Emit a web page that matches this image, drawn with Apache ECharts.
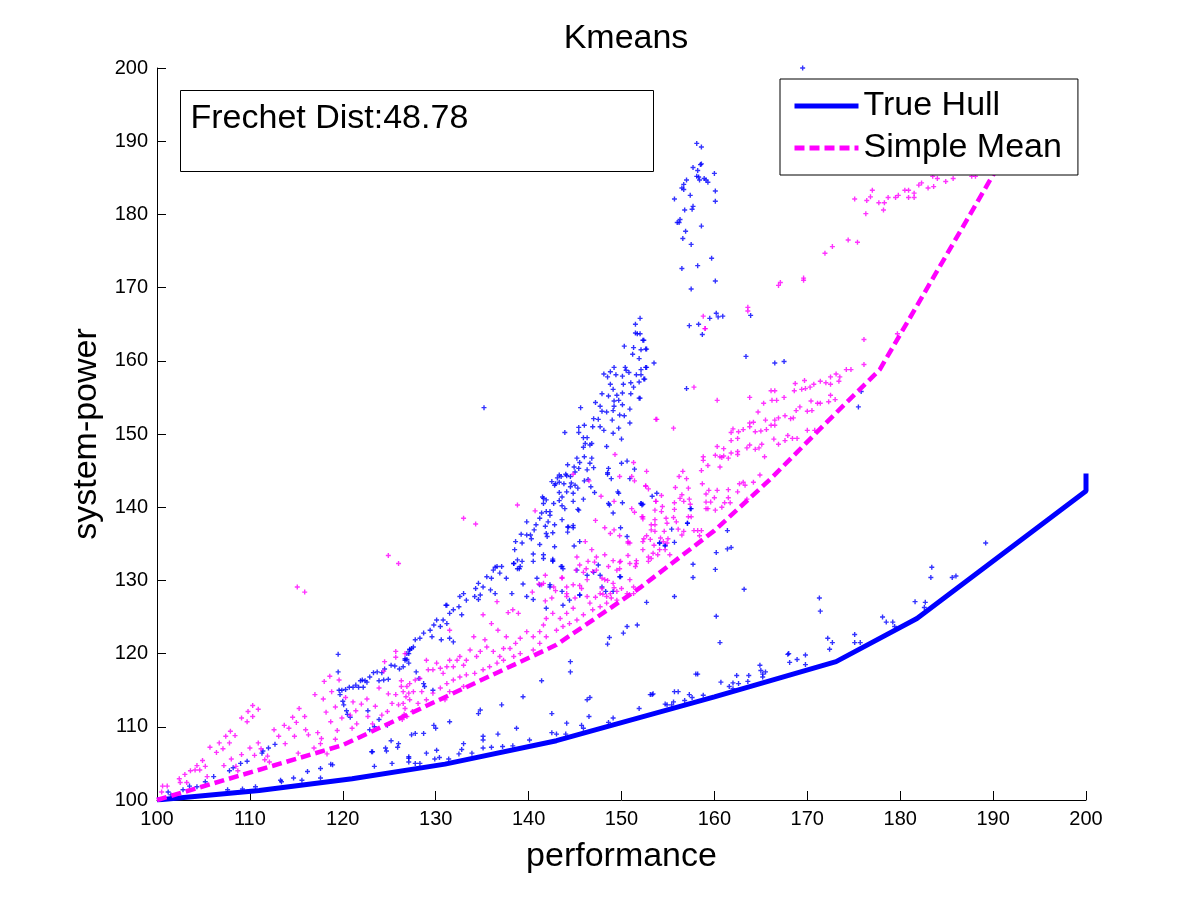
<!DOCTYPE html>
<html>
<head>
<meta charset="utf-8">
<title>Kmeans</title>
<script src="https://cdn.jsdelivr.net/npm/echarts@6/dist/echarts.min.js"></script>
<style>
	html, body { margin: 0; padding: 0; background: #fff; }
	#main { width: 1200px; height: 900px; }
</style>
</head>
<body>
<div id="main"></div>
<script>
// axis range / ticks
var xMin = 100, xMax = 200, xStep = 10;
var yMin = 100, yMax = 200, yStep = 10;
var frechetDist = "48.78";

// hull and mean curves  [performance, system-power]
var trueHull = [
	[100, 100], [111, 101.3], [121, 102.9], [131, 104.9], [143, 108.1],
	[160, 114.1], [173.1, 118.9], [181.8, 124.8], [200, 142.2], [200, 144.6]
];
var simpleMean = [
	[100, 100], [120, 107.5], [143, 121.2], [152, 129.0], [160, 136.8],
	[166, 143.8], [172, 151.5], [177.8, 158.8], [190, 185.4], [191, 187.8]
];

// blue samples
var bluePts = [
	[101.2,101.1],[101.5,100.7],[102.8,101.4],[103.5,101.9],[104.3,101.8],[105.2,102.5],[106.1,103.2],[107.6,101.4],
	[107.8,104.0],[108.2,104.4],[109.0,105.0],[109.2,101.5],[109.7,105.3],[110.6,101.8],[111.3,106.4],[111.4,106.7],
	[112.0,107.1],[112.7,107.6],[113.3,102.7],[113.4,102.5],[114.7,103.0],[115.6,102.7],[116.2,103.9],[117.6,104.3],
	[117.6,103.0],[118.7,104.9],[118.9,104.8],[119.5,119.9],[119.5,117.5],[119.6,115.0],[119.7,114.4],[119.9,115.0],
	[120.0,113.5],[120.1,113.0],[120.3,115.1],[120.4,112.2],[120.5,111.7],[120.7,115.4],[120.8,111.3],[121.1,115.4],
	[121.4,115.7],[121.7,115.4],[121.9,116.3],[122.1,116.4],[122.2,115.4],[122.4,116.3],[122.6,116.1],[122.7,112.2],
	[122.9,116.8],[122.9,109.6],[123.1,106.6],[123.2,106.6],[123.3,117.4],[123.4,110.0],[123.4,104.6],[123.7,117.5],
	[123.9,111.0],[123.9,116.3],[124.2,117.4],[124.4,116.4],[124.5,117.9],[124.6,107.1],[124.7,106.7],[124.8,110.2],
	[124.9,116.5],[125.2,118.4],[125.2,108.1],[125.3,105.0],[125.6,118.3],[125.9,107.2],[126.0,107.7],[126.1,117.9],
	[126.7,119.3],[126.9,119.2],[127.1,120.0],[127.2,120.5],[127.1,105.9],
	[136.6,131.9],[136.2,131.4],[136.9,131.0],[136.0,130.3],[135.5,130.5],[138.4,132.3],[139.0,131.6],[139.3,132.6],
	[137.6,130.3],[134.6,129.6],[135.1,129.1],[134.3,128.9],[135.9,128.7],[136.4,128.2],[134.8,128.0],[134.2,127.8],
	[134.6,127.4],[133.0,128.2],[132.6,127.8],[133.3,127.3],[132.5,126.4],[131.2,126.6],[131.9,126.0],[131.5,125.5],
	[132.8,125.3],[130.8,124.6],[131.2,124.1],[130.5,123.7],[129.8,123.9],[129.4,123.2],[128.7,122.8],[129.6,122.3],
	[128.3,122.1],[127.8,121.9],[127.6,120.9],[127.2,120.6],[127.4,120.7],[126.9,120.0],[126.7,119.1],[126.5,118.2],
	[127.1,118.7],[127.9,117.5],[128.2,116.6],[128.7,115.9],[128.8,115.5],[129.7,115.0],[130.1,124.6],[130.6,121.9],
	[131.5,122.1],[131.9,121.6],[138.2,128.2],[139.4,129.5],[140.5,132.6],[142.6,132.7],[143.6,131.9],[143.7,131.6],
	[140.9,130.3],[141.2,129.4],[142.3,129.4],[139.8,127.8],[140.5,127.4],[141.9,126.2],[143.7,126.6],[144.4,127.3],
	[145.2,131.4],[146.3,130.7],[147.0,131.1],[147.7,130.7],[147.9,129.1],[149.1,128.5],[149.9,130.5],[145.5,128.0],
	[152.7,127.0],
	[127.4,108.9],[127.8,109.1],[128.7,109.1],[129.8,110.2],[130.0,109.8],[131.5,110.7],[134.6,111.8],[134.8,112.3],
	[137.1,113.0],[139.4,114.1],[138.7,109.8],[135.1,108.7],[135.1,108.2],[136.7,109.0],[133.0,107.7],[130.1,106.8],
	[129.0,106.4],[127.1,105.7],[127.1,105.2],[127.8,105.0],[128.3,105.0],[129.9,105.6],[130.4,105.8],[131.4,105.6],
	[132.5,106.3],[132.8,106.9],[133.9,106.4],[135.1,107.1],[136.0,107.2],[137.2,107.3],[138.3,107.4],[140.1,108.2],
	[141.4,116.3],[142.5,111.8],[144.1,110.5],[142.5,109.2],[143.0,109.0],[144.0,109.0],[144.5,117.5],[144.5,118.9],
	[146.3,113.7],[146.6,114.0],[146.5,111.4],[145.7,110.2],[145.9,109.8],[148.6,110.6],[149.1,111.2],[151.9,112.5],
	[153.1,114.4],[153.3,114.4],[148.5,121.3],[148.7,122.2],[150.2,122.8],[150.6,123.7],[151.7,123.9],[131.1,126.6],
	[153.4,114.5],[154.7,113.1],[154.9,113.0],[155.4,113.0],[155.6,113.4],[155.7,114.8],[156.1,114.8],[156.8,113.6],
	[157.3,114.4],[157.6,114.0],[158.8,114.3],[158.0,117.2],[158.2,117.2],[160.7,116.1],[161.6,115.5],[162.0,116.0],
	[162.0,115.2],[162.6,115.9],[162.4,117.0],[163.6,116.2],[163.7,117.0],[164.9,118.4],[165.0,117.7],[165.2,117.2],
	[165.5,117.5],[165.2,116.8],[167.9,119.9],[168.0,120.0],[168.1,118.8],[168.9,119.2],[169.8,119.8],[169.8,118.5],
	[171.3,127.6],[171.4,125.8],[172.2,122.1],[172.4,120.6],[172.7,121.5],[175.1,122.6],[175.1,121.5],[175.7,121.5],
	[178.1,125.0],[178.5,124.3],[179.2,124.3],[179.4,123.7],[181.6,127.1],[182.7,127.0],[182.6,126.3],[183.4,131.8],
	[183.3,130.4],[185.6,130.4],[186.0,130.6],[189.2,135.1],[155.7,127.8],[157.7,132.2],[157.7,130.4],[160.1,131.5],
	[160.2,133.8],[160.2,125.1],[160.6,121.5],[161.4,136.8],[161.4,134.3],[161.8,134.5],[163.2,128.8],[157.1,137.8],
	[157.4,139.8],[155.7,135.2],[154.7,134.7],[154.1,135.1],[155.4,137.0],
	[151.7,163.7],[151.5,163.8],[152.0,163.7],[150.3,162.0],[151.3,161.8],[152.1,161.5],[152.3,162.8],[152.6,161.6],
	[151.2,160.9],[151.9,160.3],[153.5,159.7],[149.2,159.1],[150.4,159.1],[150.5,158.7],[148.8,158.5],[148.1,158.2],
	[148.5,157.8],[149.4,158.1],[150.1,157.9],[150.8,158.4],[151.6,158.1],[152.1,158.8],[152.6,159.1],[152.4,157.5],
	[151.9,157.1],[151.0,157.0],[150.2,156.8],[148.8,156.8],[151.3,156.4],[149.1,156.1],[150.1,155.6],[151.0,155.5],
	[147.9,155.5],[148.6,155.2],[149.5,155.3],[149.7,154.6],[149.2,154.5],[150.1,154.0],[151.9,154.9],[147.2,154.3],
	[147.7,153.8],[148.4,153.0],[149.2,153.8],[149.1,153.2],[149.8,152.6],[150.9,153.4],[150.3,152.5],[147.9,153.1],
	[147.5,152.0],[147.0,152.1],[146.9,151.0],[147.7,151.0],[148.1,150.5],[149.0,151.9],[149.1,150.1],[149.7,150.8],
	[150.9,151.5],[145.6,153.6],[145.4,150.9],[145.4,150.2],[146.0,151.2],[143.9,150.2],[145.9,149.5],[146.3,149.5],
	[146.1,148.7],[146.6,148.5],[146.8,148.7],[148.4,148.3],[150.0,149.3],[145.9,148.2],[146.0,146.9],[146.8,146.7],
	[145.2,146.7],[144.2,145.8],[144.9,145.5],[145.5,146.1],[145.4,145.3],[146.3,145.1],[147.0,145.4],[146.6,146.0],
	[145.0,144.8],[144.5,144.2],[144.0,144.5],[143.5,144.2],[143.1,144.0],[142.5,143.5],[143.3,143.4],[142.8,143.0],
	[143.8,143.2],[144.1,142.1],[144.5,142.8],[145.0,143.0],[145.3,142.6],[144.8,141.9],[143.3,142.0],[143.6,141.4],
	[143.3,140.9],[142.7,140.5],[143.6,140.2],[141.6,141.2],[141.9,141.0],[141.6,140.5],[141.9,139.4],[142.3,138.9],
	[142.1,138.0],[142.8,137.6],[142.6,136.5],[141.4,139.2],[141.2,138.5],[140.8,137.6],[140.6,136.9],[140.2,136.2],
	[139.8,136.2],[139.8,138.0],[140.3,135.7],[139.2,136.3],[139.3,135.1],[138.6,135.3],[138.5,134.2],[138.8,132.8],
	[138.4,132.3],[139.1,131.9],[138.8,131.6],[140.5,133.6],[141.2,134.9],[141.6,133.5],[141.9,136.4],[142.6,132.6],
	[142.8,134.6],[143.5,131.9],[144.2,137.3],[144.2,136.6],[144.8,137.2],[145.3,139.7],[145.5,135.3],[144.9,134.7],
	[137.1,131.9],[136.4,131.8],[148.6,145.3],[148.9,143.9],[148.5,144.5],[150.0,146.0],[150.6,146.3],[151.4,145.2],
	[150.9,143.9],[149.6,142.1],[148.6,140.5],[150.1,140.6],[149.1,139.2],[149.9,137.2],[150.6,136.0],[152.1,140.5],
	[152.2,140.3],[153.3,141.5],[153.8,141.9],[147.1,142.0],[146.7,142.8],[146.0,143.6],[146.4,143.8],[135.2,153.6],
	[143.3,144.4],[144.1,144.3],[144.6,143.3],[142.9,143.2],[141.5,141.4],[142.3,139.4],[141.8,137.4],[142.0,136.0],
	[143.6,138.3],[143.9,139.8],[144.8,140.8],[145.9,141.1],[145.4,139.6],[144.3,137.3],[144.8,137.5],[141.6,133.0],
	[142.6,132.9],[147.5,132.1],[149.8,130.5],[148.3,128.5],[143.6,128.5],[142.3,129.1],[145.5,128.0],[154.1,135.1],
	[154.7,134.8],[148.7,140.3],[149.7,141.9],[148.5,144.7],
	[157.3,164.8],[158.3,165.0],[158.7,163.6],[152.4,162.8],[152.7,161.6],[152.7,159.1],[152.1,158.1],[152.5,157.5],
	[163.4,160.6],[166.5,159.7],[167.5,159.9],[157.0,156.2],[152.0,154.9],[175.8,155.8],[175.5,153.7],[152.1,140.5],
	[152.3,140.4],[157.5,139.8],[157.1,137.8],
	[169.5,200.0],[158.1,189.7],[158.6,189.2],[158.5,186.8],[158.6,186.9],[157.7,186.4],[158.2,186.0],[160.0,185.6],
	[158.1,185.2],[158.3,185.1],[158.4,184.7],[158.9,184.9],[159.1,184.7],[159.3,184.4],[157.0,184.7],[156.7,184.1],
	[156.5,183.6],[156.7,183.4],[157.4,182.6],[155.7,182.1],[160.1,183.2],[160.1,181.8],[157.7,181.1],[157.6,180.7],
	[156.8,180.6],[156.3,179.3],[156.0,178.9],[156.2,178.9],[158.6,178.4],[156.9,177.7],[156.6,176.7],[157.5,175.9],
	[159.7,174.0],[158.2,173.0],[156.5,172.6],[160.1,170.9],[157.5,169.8],[152.0,165.8],[151.5,165.0],[160.2,166.5],
	[160.4,166.0],[159.5,165.8],[160.9,166.1],[163.9,166.2]
];

// magenta samples
var magentaPts = [
	[100.6,101.9],[101.1,101.9],[100.5,101.1],[102.4,102.9],[102.5,102.4],[103.0,103.5],[103.2,102.4],[103.6,104.0],
	[104.1,104.1],[104.3,104.7],[104.6,104.1],[104.9,105.4],[105.2,104.6],[105.4,103.2],[105.7,107.2],[106.4,106.5],
	[106.7,107.8],[107.1,107.0],[107.4,108.7],[107.8,107.8],[107.9,109.4],[108.4,108.8],[107.2,104.7],[108.0,105.6],
	[108.5,104.6],[108.7,104.0],[109.1,106.2],[109.1,111.2],[109.7,110.7],[109.8,112.1],[110.3,112.9],[110.3,111.4],
	[110.9,112.4],[110.0,107.1],[110.5,106.1],[110.9,107.8],[111.2,107.0],[111.6,105.5],[111.9,106.0],[112.1,105.2],
	[112.6,109.6],[113.1,108.7],[113.7,110.2],[113.8,107.7],[114.2,109.8],[114.6,111.3],[114.8,108.7],[115.0,110.6],
	[115.3,112.5],[115.2,106.4],[115.9,111.4],[116.0,109.6],[116.3,108.9],[116.9,107.1],[117.0,114.4],[117.3,109.2],
	[117.6,107.7],[117.9,113.8],[117.7,108.4],[118.0,116.2],[118.2,112.0],[118.3,106.3],[118.6,116.9],[118.8,114.8],
	[118.7,110.7],[119.2,112.7],[119.2,108.3],[119.4,109.5],[119.6,116.4],[119.9,111.2],[120.3,114.0],[120.8,111.6],
	[121.1,113.4],[121.0,109.8],[121.4,112.2],[121.5,110.4],[122.0,113.1],[122.6,113.8],[122.7,111.4],[123.2,110.4],
	[123.5,112.8],[123.9,115.3],[124.2,111.6],[124.4,117.6],[124.5,118.9],[124.9,114.5],[124.8,112.1],[125.3,113.2],
	[125.7,120.3],[125.7,119.5],[125.7,114.4],[126.0,113.0],[126.3,116.3],[126.6,111.7],[126.7,120.0],[126.8,114.1],
	[127.1,114.6],
	[115.1,129.1],[115.9,128.4],[124.9,133.4],[126.0,132.3],
	[136.6,127.1],[137.8,125.6],[138.3,126.0],[138.9,125.5],[140.4,128.4],[141.1,129.5],[141.4,129.4],[141.8,130.7],
	[141.8,127.2],[142.9,128.6],[143.6,130.3],[144.1,128.2],[144.8,129.4],[145.7,128.9],[146.3,130.1],[145.5,132.1],
	[146.4,132.6],[147.3,131.4],[148.2,130.1],[149.1,129.6],[148.4,127.8],[149.5,131.4],[150.9,130.1],[151.3,129.1],
	[151.6,132.3],[149.9,132.6],[152.9,132.6],[150.9,132.3],[150.6,128.2],[148.8,128.2],[147.7,128.2],[146.6,126.9],
	[144.8,126.2],[144.1,125.5],[143.4,124.8],[142.6,125.5],[141.9,124.8],[141.6,123.9],[141.2,123.0],[140.5,122.3],
	[139.8,123.0],[139.1,122.1],[138.6,121.4],[138.0,120.7],[137.3,120.7],[136.9,119.6],[136.2,120.3],[135.5,120.9],
	[134.8,120.3],[134.4,119.6],[133.7,120.5],[133.3,119.1],[133.0,118.4],[132.3,119.1],[131.9,118.2],[131.5,119.1],
	[131.2,118.2],[130.8,117.3],[130.5,118.0],[130.1,118.7],[129.7,117.8],[129.2,117.8],[129.0,119.1],[128.3,116.6],
	[127.8,116.4],[127.2,115.9],[126.9,115.5],[126.5,114.8],[126.3,115.5],[127.6,114.8],[128.5,114.8],[127.2,113.7],
	[126.5,113.2],[126.7,112.5],[128.1,113.2],[129.0,113.7],[129.7,114.6],[130.5,115.3],[131.2,115.9],[131.9,116.4],
	[132.6,116.8],[133.3,117.1],[134.2,117.3],[135.1,117.8],[135.8,118.2],[136.6,118.7],[137.3,119.1],[138.4,119.6],
	[139.1,120.0],[140.5,120.5],[141.2,121.4],[141.9,122.3],[143.0,123.2],[143.7,123.7],[144.4,124.1],[145.2,124.6],
	[145.9,125.3],[146.9,126.0],[147.7,126.4],[148.4,126.9],[149.5,127.3],[151.3,128.2],[135.1,125.3],[134.1,122.3],
	[136.0,124.1],[136.7,123.2],[137.6,122.3],[135.3,121.9],[132.6,119.6],[131.5,114.8],[133.0,115.5],[131.0,113.7],
	[131.5,123.2],[127.5,112.1],[126.9,111.4],[126.4,111.0],
	[153.8,152.0],[149.3,147.2],[151.3,146.1],[152.6,142.9],[152.9,142.5],[153.7,140.8],[146.5,143.6],[147.8,141.5],
	[149.2,140.8],[151.1,139.8],[151.4,139.3],[152.3,138.7],[152.3,138.4],[147.2,138.2],[148.2,137.2],[148.8,136.4],
	[149.2,136.9],[149.8,136.1],[150.7,135.3],[150.9,135.1],[152.3,135.3],[153.5,134.8],[153.2,136.9],[153.6,137.6],
	[146.1,135.3],[144.8,144.5],[138.8,140.3],[140.7,139.5],[133.0,138.5],[134.3,137.7],[146.8,134.2],[147.3,133.2],
	[145.2,133.2],[148.2,133.5],[149.1,132.7],[149.8,132.5],[150.7,133.4],[151.6,132.7],[152.3,134.2],[152.9,133.2],
	[153.9,133.5],[147.1,132.5],[148.6,131.9],[149.8,131.6],[151.5,131.9],
	[145.1,131.4],[145.9,131.1],[146.2,131.6],[146.9,131.2],[143.6,130.4],[144.1,129.1],[145.5,129.3],[147.9,130.3],
	[148.5,130.0],[149.2,129.0],[150.0,128.9],[147.9,128.9],[146.3,127.8],[147.2,127.7],[148.0,128.1],[148.9,127.6],
	[149.5,128.5],[145.0,127.6],[141.6,129.6],[142.7,129.1],[142.5,127.6],[144.1,127.8],[149.8,144.2],[151.1,144.2],
	[151.4,143.6],[152.7,144.9],[153.6,139.6],[154.4,140.1],[154.8,138.5],[155.0,135.7],[154.5,135.3],[154.7,134.2],
	[150.7,135.1],[153.1,135.6],
	[159.0,164.4],[176.1,162.9],[179.7,163.7],[176.1,159.5],[157.8,156.4],[160.3,154.6],[163.8,155.0],[153.7,152.0],
	[155.6,150.8],[168.7,156.9],[169.7,157.3],[170.7,156.8],[171.4,157.2],[172.0,157.0],[172.5,157.8],[173.1,158.2],
	[173.5,157.8],[173.4,157.2],[174.2,158.8],[174.7,158.8],[172.5,156.8],[168.6,155.9],[169.4,156.1],[169.8,156.2],
	[170.3,156.4],[166.1,155.9],[166.5,155.9],[166.2,154.6],[166.7,154.6],[167.5,155.0],[164.7,153.0],[165.3,154.2],
	[167.6,152.5],[166.9,152.2],[168.2,152.1],[168.5,152.2],[168.8,153.2],[169.2,153.7],[170.0,153.1],[170.5,153.2],
	[170.4,154.5],[171.1,154.2],[171.4,154.2],[172.3,154.4],[172.5,155.3],[173.0,154.7],[165.5,151.9],[166.1,151.2],
	[166.5,151.9],[164.2,151.6],[163.8,151.5],[163.1,150.6],[163.8,151.0],[162.0,150.7],[161.8,150.2],[162.6,150.3],
	[164.4,150.3],[165.0,150.4],[165.6,150.6],[166.5,151.2],[167.9,149.8],[168.4,149.4],[168.9,149.4],[170.0,150.5],
	[170.8,150.5],[162.5,149.4],[161.8,149.1],[161.0,148.0],[160.3,148.3],[163.5,148.1],[163.8,148.5],[164.4,147.9],
	[164.8,148.1],[165.1,148.6],[166.4,149.3],[166.9,148.6],[167.6,149.1],[160.6,146.9],[160.1,147.1],[160.8,146.8],
	[161.0,147.0],[161.5,146.7],[161.8,147.4],[162.5,147.6],[162.5,147.2],[158.8,146.9],[158.8,146.4],[159.3,145.7],
	[158.6,145.0],[160.6,145.5],[156.6,144.9],[156.2,144.2],[157.0,143.9],[165.4,146.9],[164.9,144.4],[158.7,143.2],
	[155.8,142.7],[157.2,142.6],[159.1,141.8],[159.4,142.3],[160.3,142.3],[161.5,142.4],[162.7,143.2],[163.1,143.4],
	[163.3,143.0],[164.2,143.4],[162.5,142.1],[161.5,141.3],[160.0,141.3],[159.1,140.7],[159.6,140.7],[161.1,140.6],
	[161.7,140.6],[163.5,141.1],[156.5,141.7],[156.3,141.2],[155.7,140.6],[156.7,140.8],[157.3,141.1],[157.4,140.4],
	[152.6,142.9],[154.3,141.6],[153.7,140.8],[155.7,139.7],[154.3,139.4],[157.2,138.7],[157.5,138.7],[159.1,139.8],
	[159.3,139.8],[160.1,139.6],[160.8,140.0],[155.6,138.6],[155.9,138.0],[154.9,137.8],[153.2,137.6],[153.6,138.3],
	[153.6,136.7],[152.2,138.7],[154.6,136.7],[156.1,137.0],[156.7,136.7],[157.8,136.8],[158.2,136.8],[158.6,136.8],
	[158.4,136.1],[156.5,136.2],[154.2,135.8],[152.7,136.1],[152.4,135.7],
	[153.4,133.7],[154.1,134.2],[155.2,133.5],[153.2,133.0],[154.9,135.1],
	[175.1,182.1],[174.4,176.5],[175.4,176.2],[172.7,175.6],[171.9,174.7],[169.6,171.3],[169.6,171.0],[167.1,170.7],
	[166.9,170.3],[163.6,167.3],[163.6,166.8],[158.8,166.1],[159.0,164.4],
	[176.3,180.1],[176.4,181.9],[176.8,182.4],[177.0,183.3],[177.7,181.6],[178.2,180.6],[178.3,181.6],[178.7,182.3],
	[179.5,182.3],[179.8,182.6],[180.5,183.3],[180.9,183.3],[180.9,182.3],[181.5,182.9],[181.5,182.3],[182.0,184.0],
	[182.3,184.3],[183.0,183.6],[183.6,183.8],[184.0,184.9],[184.9,184.5],[185.7,184.9],[183.5,185.2],[188.1,185.2],
	[187.7,185.2]
];

// small "+" marker like the original plot
var plusMark = 'path://M1.8,0h1.4v1.8h1.8v1.4h-1.8v1.8h-1.4v-1.8h-1.8v-1.4h1.8z';
var fontName = 'Liberation Sans, Arial, sans-serif';

function axisCfg(min, max, step, name, gap) {
	return {
		type: 'value',
		min: min,
		max: max,
		interval: step,
		name: name,
		nameLocation: 'middle',
		nameGap: gap,
		nameTextStyle: { fontSize: 34, color: '#000', fontFamily: fontName },
		axisLine: { show: true, lineStyle: { color: '#000', width: 1 } },
		axisTick: { show: true, inside: true, length: 9, lineStyle: { color: '#000' } },
		axisLabel: { fontSize: 20, color: '#000', fontFamily: fontName, margin: 9 },
		splitLine: { show: false }
	};
}

var chart = echarts.init(document.getElementById('main'));

var option = {
	backgroundColor: '#fff',
	animation: false,
	title: {
		text: 'Kmeans',
		left: 621,
		textAlign: 'center',
		top: 17,
		textStyle: { fontSize: 34, fontWeight: 'normal', color: '#000', fontFamily: fontName }
	},
	grid: { left: 157, right: 114, top: 68, bottom: 100 },
	xAxis: axisCfg(xMin, xMax, xStep, 'performance', 40),
	yAxis: axisCfg(yMin, yMax, yStep, 'system-power', 50),
	legend: {
		orient: 'vertical',
		left: 780,
		top: 79,
		padding: [10, 16, 10, 12],
		itemGap: 8,
		itemWidth: 64,
		itemHeight: 16,
		backgroundColor: '#fff',
		borderColor: '#000',
		borderWidth: 1,
		itemStyle: { opacity: 0 },
		lineStyle: { width: 5 },
		textStyle: { fontSize: 34, color: '#000', fontFamily: fontName },
		data: ['True Hull', 'Simple Mean']
	},
	graphic: [{
		type: 'group',
		left: 180,
		top: 90,
		children: [{
			type: 'rect',
			shape: { x: 0, y: 0, width: 473, height: 81 },
			style: { fill: '#fff', stroke: '#000', lineWidth: 1 }
		}, {
			type: 'text',
			x: 10,
			y: 11,
			style: { text: 'Frechet Dist:' + frechetDist, fontSize: 34, fill: '#000', fontFamily: fontName }
		}]
	}],
	series: [{
		name: 'blue',
		type: 'scatter',
		data: bluePts,
		symbol: plusMark,
		symbolSize: 5,
		itemStyle: { color: '#0000ff' },
		silent: true
	}, {
		name: 'magenta',
		type: 'scatter',
		data: magentaPts,
		symbol: plusMark,
		symbolSize: 5,
		itemStyle: { color: '#ff00ff' },
		silent: true
	}, {
		name: 'True Hull',
		type: 'line',
		data: trueHull,
		symbol: 'none',
		z: 3,
		lineStyle: { color: '#0000ff', width: 5 },
		itemStyle: { color: '#0000ff' }
	}, {
		name: 'Simple Mean',
		type: 'line',
		data: simpleMean,
		symbol: 'none',
		z: 3,
		lineStyle: { color: '#ff00ff', width: 4.5, type: [10, 5] },
		itemStyle: { color: '#ff00ff' }
	}]
};

chart.setOption(option);
</script>
</body>
</html>
